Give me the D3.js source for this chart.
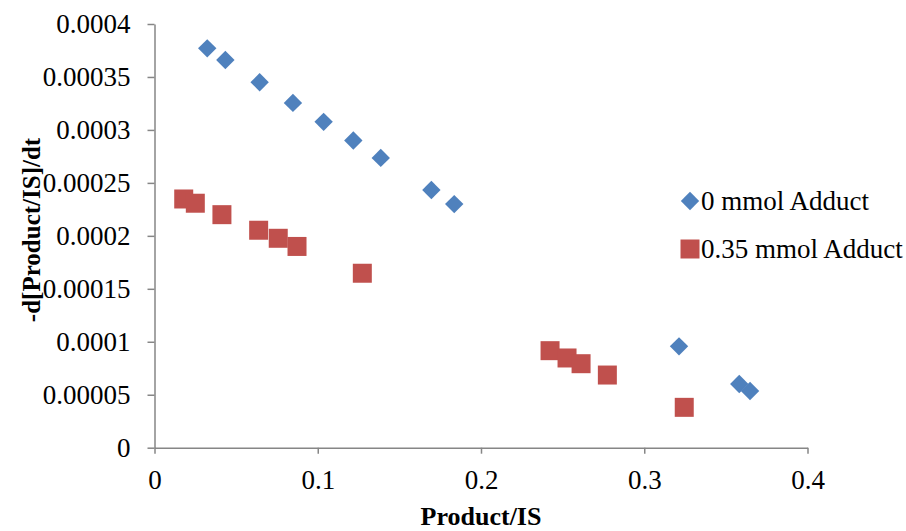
<!DOCTYPE html>
<html>
<head>
<meta charset="utf-8">
<script src="https://cdn.jsdelivr.net/npm/d3@7"></script>
<style>
  body { margin: 0; background: #fff; }
  svg text { font-family: "Liberation Serif", "Times New Roman", serif; fill: #000; }
</style>
</head>
<body>
<svg id="chart" width="906" height="531"></svg>
<script>
/* ── Data ──────────────────────────────────────────────────────── */
const series0Name = "0 mmol Adduct";
const series0X = [0.0323, 0.0434, 0.0644, 0.0848, 0.1036, 0.1218, 0.1386, 0.1696, 0.1836, 0.3213, 0.3582, 0.3648];
const series0Y = [0.000377, 0.000366, 0.000345, 0.0003255, 0.0003076, 0.00029, 0.0002736, 0.0002433, 0.00023, 0.0000957, 0.0000602, 0.0000535];

const series1Name = "0.35 mmol Adduct";
const series1X = [0.0179, 0.025, 0.0413, 0.0638, 0.0758, 0.0873, 0.1273, 0.2423, 0.2527, 0.2613, 0.2774, 0.3245];
const series1Y = [0.0002348, 0.0002308, 0.00022, 0.0002053, 0.0001977, 0.00019, 0.0001647, 0.0000916, 0.0000847, 0.0000793, 0.0000686, 0.0000381];

const xTicks = [0, 0.1, 0.2, 0.3, 0.4];
const xTickLabels = ["0", "0.1", "0.2", "0.3", "0.4"];
const yTicks = [0, 0.00005, 0.0001, 0.00015, 0.0002, 0.00025, 0.0003, 0.00035, 0.0004];
const yTickLabels = ["0", "0.00005", "0.0001", "0.00015", "0.0002", "0.00025", "0.0003", "0.00035", "0.0004"];

const xTitle = "Product/IS";
const yTitle = "-d[Product/IS]/dt";

/* ── Layout ─────────────────────────────────────────────────────── */
const AXIS_COLOR = "#868686";
const BLUE = "#4F81BD";
const RED = "#C0504D";
const FONT = 27;

const svg = d3.select("#chart");

const x = d3.scaleLinear().domain([0, 0.4]).range([154.5, 807.5]);
const y = d3.scaleLinear().domain([0, 0.0004]).range([447.7, 24]);

/* ── Axes ───────────────────────────────────────────────────────── */
const xAxis = svg.append("g")
  .attr("transform", `translate(0,${y(0)})`)
  .call(d3.axisBottom(x)
    .tickValues(xTicks)
    .tickFormat((d, i) => xTickLabels[i])
    .tickSize(6)
    .tickSizeOuter(0)
    .tickPadding(16));

const yAxis = svg.append("g")
  .attr("transform", `translate(${x(0)},0)`)
  .call(d3.axisLeft(y)
    .tickValues(yTicks)
    .tickFormat((d, i) => yTickLabels[i])
    .tickSize(7)
    .tickSizeOuter(0)
    .tickPadding(17));

for (const g of [xAxis, yAxis]) {
  g.select(".domain").attr("stroke", AXIS_COLOR).attr("stroke-width", 1.5);
  g.selectAll(".tick line").attr("stroke", AXIS_COLOR).attr("stroke-width", 1.5);
  g.selectAll(".tick text")
    .style("font-family", '"Liberation Serif", "Times New Roman", serif')
    .style("font-size", FONT + "px")
    .attr("fill", "#000");
}

/* Axis titles */
svg.append("text")
  .attr("x", (x(0) + x(0.4)) / 2)
  .attr("y", 525)
  .attr("text-anchor", "middle")
  .style("font-size", "26px")
  .style("font-weight", "bold")
  .text(xTitle);

svg.append("text")
  .attr("transform", "translate(40,230) rotate(-90)")
  .attr("text-anchor", "middle")
  .style("font-size", "25px")
  .style("font-weight", "bold")
  .text(yTitle);

/* ── Markers ────────────────────────────────────────────────────── */
const diamond = d3.symbol().type(d3.symbolSquare).size(13 * 13);
const square = d3.symbol().type(d3.symbolSquare).size(19 * 19);

const pts0 = series0X.map((v, i) => ({ x: v, y: series0Y[i] }));
const pts1 = series1X.map((v, i) => ({ x: v, y: series1Y[i] }));

svg.append("g").selectAll("path")
  .data(pts0)
  .enter().append("path")
    .attr("d", diamond)
    .attr("transform", d => `translate(${x(d.x)},${y(d.y)}) rotate(45)`)
    .attr("fill", BLUE);

svg.append("g").selectAll("path")
  .data(pts1)
  .enter().append("path")
    .attr("d", square)
    .attr("transform", d => `translate(${x(d.x)},${y(d.y)})`)
    .attr("fill", RED);

/* ── Legend ─────────────────────────────────────────────────────── */
const legend = svg.append("g");
const legendItems = [
  { name: series0Name, sym: diamond, rot: 45, color: BLUE, cy: 201 },
  { name: series1Name, sym: square, rot: 0, color: RED, cy: 249 },
];
legendItems.forEach(item => {
  legend.append("path")
    .attr("d", item.sym)
    .attr("transform", `translate(690,${item.cy}) rotate(${item.rot})`)
    .attr("fill", item.color);
  legend.append("text")
    .attr("x", 701)
    .attr("y", item.cy)
    .attr("dy", "0.34em")
    .style("font-size", FONT + "px")
    .text(item.name);
});
</script>
</body>
</html>
